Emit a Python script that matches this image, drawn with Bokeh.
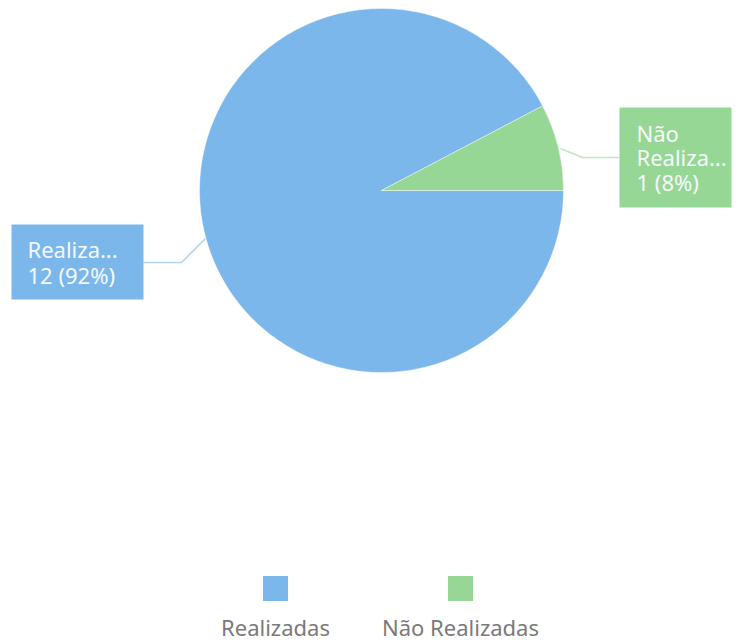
import numpy as np
from bokeh.plotting import figure
from bokeh.models import Range1d, ColumnDataSource
from bokeh.core.properties import value
from bokeh.embed import file_html
from bokeh.resources import INLINE

categories = ["Realizadas", "Não Realizadas"]
values = [12, 1]
short_labels = [["Realiza...", "12 (92%)"], ["Não", "Realiza...", "1 (8%)"]]
colors = ["#7bb7ea", "#97d795"]

W, H = 739, 643
FONT = "Noto Sans"
TEXT_SHIFT = 11  # compensate renderer baseline offset

def Y(v):
    # screen y (from top) -> data y (from bottom)
    if isinstance(v, (list, tuple)):
        return [H - t for t in v]
    return H - v

p = figure(width=W, height=H, output_backend="svg", toolbar_location=None,
           x_range=Range1d(0, W), y_range=Range1d(0, H), min_border=0)
p.axis.visible = False
p.grid.visible = False
p.outline_line_color = None
p.background_fill_color = "white"

cx, cy, r = 381, Y(190), 182
total = sum(values)
fracs = [v / total for v in values]
green_end = 2 * np.pi * fracs[1]
starts = [green_end, 0.0]
ends = [2 * np.pi, green_end]
src = ColumnDataSource(dict(x=[cx, cx], y=[cy, cy], s=starts, e=ends, c=colors))
p.wedge(x="x", y="y", radius=r, start_angle="s", end_angle="e", direction="anticlock",
        fill_color="c", line_color="white", line_width=0.6, line_alpha=0.7, source=src)

box_specs = [
    dict(l=11, rr=143, t=224, b=299, tx=27, lines_y=[259, 285]),
    dict(l=619, rr=731, t=107, b=207, tx=636, lines_y=[143, 167, 192]),
]
leaders = [
    ([143, 181, 205], [262, 262, 238]),
    ([619, 582, 560], [157, 157, 148]),
]
for i, spec in enumerate(box_specs):
    lx, ly = leaders[i]
    p.line(lx, Y(ly), line_color=colors[i], line_width=1.5, line_alpha=0.6)
    p.quad(left=[spec["l"]], right=[spec["rr"]], top=[Y(spec["t"])], bottom=[Y(spec["b"])],
           fill_color=colors[i], line_color=None)
    p.text(x=[spec["tx"]] * len(short_labels[i]),
           y=Y([v - TEXT_SHIFT for v in spec["lines_y"]]), text=short_labels[i],
           text_font=value(FONT), text_font_size="22px", text_color="#f4f9fd",
           text_baseline="alphabetic", text_align="left")

leg_x = [275, 460]
p.rect(x=leg_x, y=Y([588, 588]), width=25, height=25, fill_color=colors, line_color=None)
p.text(x=leg_x, y=Y([637 - TEXT_SHIFT, 637 - TEXT_SHIFT]), text=categories,
       text_font=value(FONT), text_font_size="22px", text_color="#7a7a7a",
       text_align="center", text_baseline="alphabetic")

open("out.html", "w").write(file_html(p, INLINE))
